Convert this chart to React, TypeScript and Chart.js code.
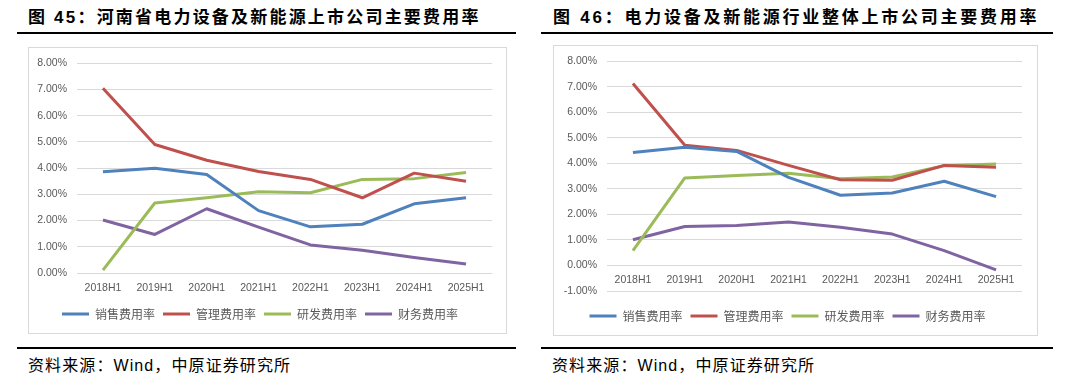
import React, { useEffect, useRef } from "react";
import { Chart, registerables } from "chart.js";

Chart.register(...registerables);

// ---- data ----
const categories = ["2018H1", "2019H1", "2020H1", "2021H1", "2022H1", "2023H1", "2024H1", "2025H1"];
const seriesNames = ["销售费用率", "管理费用率", "研发费用率", "财务费用率"];
const seriesColors = ["#4F81BD", "#C0504D", "#9BBB59", "#8064A2"];

// Figure 45: Henan listed companies (%)
const henanSales = [3.86, 4.0, 3.76, 2.38, 1.76, 1.86, 2.64, 2.87];
const henanAdmin = [7.05, 4.9, 4.3, 3.87, 3.57, 2.87, 3.81, 3.5];
const henanRnd = [0.11, 2.67, 2.87, 3.1, 3.06, 3.57, 3.6, 3.83];
const henanFinance = [2.02, 1.47, 2.45, 1.75, 1.07, 0.87, 0.59, 0.34];

// Figure 46: industry overall (%)
const industrySales = [4.43, 4.63, 4.47, 3.45, 2.75, 2.84, 3.3, 2.7];
const industryAdmin = [7.13, 4.71, 4.51, 3.92, 3.36, 3.34, 3.92, 3.85];
const industryRnd = [0.58, 3.43, 3.53, 3.61, 3.4, 3.47, 3.91, 3.98];
const industryFinance = [1.01, 1.53, 1.57, 1.7, 1.5, 1.23, 0.58, -0.17];

const leftTitle = "图 45：河南省电力设备及新能源上市公司主要费用率";
const rightTitle = "图 46：电力设备及新能源行业整体上市公司主要费用率";
const sourceText = "资料来源：Wind，中原证券研究所";

const tickFont = { family: '"Liberation Sans", Arial, sans-serif', size: 10.5 };
const legendFont = { family: '"Noto Sans CJK SC", sans-serif', size: 12 };
const TEXT_GRAY = "#595959";
const GRID_GRAY = "#d9d9d9";

type PanelProps = {
  left: number;
  top: number;
  width: number;
  height: number;
  series: number[][];
  yMin: number;
  yMax: number;
  axisWidth: number;
  padRight: number;
  zeroAxis: boolean;
  xHeight: number;
  xPad: number;
};

function LineChartPanel(p: PanelProps) {
  const ref = useRef<HTMLCanvasElement | null>(null);
  useEffect(() => {
    if (!ref.current) return;
    const scales: any = {
      x: {
        type: "category",
        offset: true,
        position: p.zeroAxis ? { y: 0 } : "bottom",
        grid: { display: false },
        border: { display: false },
        ticks: {
          font: tickFont,
          color: TEXT_GRAY,
          padding: p.xPad,
          maxRotation: 0,
          autoSkip: false,
        },
        afterFit: (s: any) => {
          s.height = p.xHeight;
        },
      },
      y: {
        min: p.yMin,
        max: p.yMax,
        ticks: {
          stepSize: 1,
          font: tickFont,
          color: TEXT_GRAY,
          padding: 10,
          callback: (v: any) => Number(v).toFixed(2) + "%",
        },
        grid: { color: GRID_GRAY, lineWidth: 1, drawTicks: false },
        border: { display: false },
        afterFit: (s: any) => {
          s.width = p.axisWidth;
        },
      },
    };
    if (p.zeroAxis) {
      // spacer axis reserving room between the plot and the legend
      scales.xSpace = {
        type: "category",
        position: "bottom",
        grid: { display: false },
        border: { display: false },
        ticks: { display: false },
        afterFit: (s: any) => {
          s.height = 11;
        },
      };
    }
    const chart = new Chart(ref.current, {
      type: "line",
      data: {
        labels: categories,
        datasets: p.series.map((d, i) => ({
          label: seriesNames[i],
          data: d,
          borderColor: seriesColors[i],
          backgroundColor: seriesColors[i],
          borderWidth: 3,
          pointRadius: 0,
          pointHoverRadius: 0,
          tension: 0,
          fill: false,
          borderJoinStyle: "round" as const,
          xAxisID: "x",
          yAxisID: "y",
        })),
      },
      options: {
        responsive: false,
        animation: false,
        devicePixelRatio: 1,
        layout: { padding: { left: 0, top: 15, right: p.padRight, bottom: 4 } },
        plugins: {
          legend: {
            position: "bottom",
            labels: {
              usePointStyle: true,
              pointStyle: "line",
              pointStyleWidth: 27,
              font: legendFont,
              color: TEXT_GRAY,
              padding: 8,
            },
          },
          tooltip: { enabled: false },
        },
        scales,
      },
    });
    return () => chart.destroy();
  }, []);
  return (
    <>
      <div
        style={{
          position: "absolute",
          left: p.left,
          top: p.top,
          width: p.width,
          height: p.height,
          boxSizing: "border-box",
          border: "1px solid #d9d9d9",
        }}
      />
      <canvas
        ref={ref}
        width={p.width}
        height={p.height}
        style={{ position: "absolute", left: p.left, top: p.top, width: p.width, height: p.height }}
      />
    </>
  );
}

const titleStyle: React.CSSProperties = {
  position: "absolute",
  top: 9,
  fontSize: 17,
  lineHeight: "18px",
  fontWeight: 700,
  letterSpacing: "2.2px",
  fontFamily: '"Liberation Sans", "Noto Sans CJK SC", sans-serif',
  whiteSpace: "nowrap",
  color: "#000",
};

const sourceStyle: React.CSSProperties = {
  position: "absolute",
  top: 358,
  fontSize: 16,
  lineHeight: "16px",
  letterSpacing: "1.1px",
  fontFamily: '"Liberation Sans", "Noto Sans CJK SC", sans-serif',
  whiteSpace: "nowrap",
  color: "#000",
};

function Rule({ left, right, top }: { left: number; right: number; top: number }) {
  return (
    <div style={{ position: "absolute", left, top, width: right - left, height: 2, background: "#000" }} />
  );
}

export default function App() {
  return (
    <div
      style={{
        position: "fixed",
        left: 0,
        top: 0,
        width: 1075,
        height: 376,
        background: "#fff",
        overflow: "hidden",
      }}
    >
      <div style={{ ...titleStyle, left: 28 }}>{leftTitle}</div>
      <div style={{ ...titleStyle, left: 553, letterSpacing: "2.75px" }}>{rightTitle}</div>
      <Rule left={17} right={516} top={32} />
      <Rule left={541} right={1053} top={32} />
      <LineChartPanel
        left={28}
        top={47}
        width={479}
        height={287}
        series={[henanSales, henanAdmin, henanRnd, henanFinance]}
        yMin={0}
        yMax={8}
        axisWidth={49}
        padRight={15}
        zeroAxis={false}
        xHeight={27}
        xPad={1}
      />
      <LineChartPanel
        left={553}
        top={45}
        width={485}
        height={291}
        series={[industrySales, industryAdmin, industryRnd, industryFinance]}
        yMin={-1}
        yMax={8}
        axisWidth={54}
        padRight={16}
        zeroAxis={true}
        xHeight={0}
        xPad={0}
      />
      <Rule left={17} right={516} top={347} />
      <Rule left={541} right={1053} top={347} />
      <div style={{ ...sourceStyle, left: 28 }}>{sourceText}</div>
      <div style={{ ...sourceStyle, left: 552 }}>{sourceText}</div>
    </div>
  );
}
